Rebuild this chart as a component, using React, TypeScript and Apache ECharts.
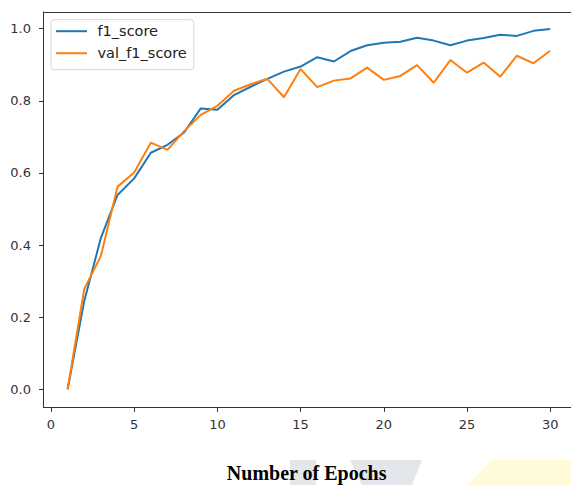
import React, { useEffect, useRef } from "react";
import * as echarts from "echarts";

const epochs = [1, 2, 3, 4, 5, 6, 7, 8, 9, 10, 11, 12, 13, 14, 15, 16, 17, 18, 19, 20, 21, 22, 23, 24, 25, 26, 27, 28, 29, 30];
const f1Score = [0.0, 0.245, 0.42, 0.539, 0.585, 0.656, 0.678, 0.712, 0.779, 0.775, 0.816, 0.839, 0.861, 0.881, 0.895, 0.921, 0.909, 0.938, 0.954, 0.961, 0.964, 0.975, 0.967, 0.954, 0.967, 0.974, 0.983, 0.98, 0.994, 0.999];
const valF1Score = [0.0, 0.278, 0.37, 0.562, 0.601, 0.684, 0.664, 0.716, 0.761, 0.786, 0.828, 0.846, 0.861, 0.81, 0.888, 0.838, 0.856, 0.862, 0.892, 0.858, 0.869, 0.899, 0.85, 0.913, 0.878, 0.906, 0.867, 0.925, 0.904, 0.939];
const xTicks = [0, 5, 10, 15, 20, 25, 30];
const yTicks = [0, 0.2, 0.4, 0.6, 0.8, 1.0];
const seriesNames = ["f1_score", "val_f1_score"];
const xTitle = "Number of Epochs";

export default function App() {
  const ref = useRef<HTMLDivElement>(null);
  useEffect(() => {
    if (!ref.current) return;
    const chart = echarts.init(ref.current, null, { renderer: "svg" });
    const axisColor = "#333";
    const tickFont = { fontFamily: "DejaVu Sans", fontSize: 13, color: "#333" };
    chart.setOption({
      animation: false,
      backgroundColor: "#fff",
      grid: {
        left: 43.5,
        right: 0,
        top: 12,
        bottom: 77.7,
        show: false,
      },
      legend: {
        orient: "vertical",
        left: 51,
        top: 19.7,
        padding: [4, 7, 9, 5],
        itemGap: 7,
        icon: "rect",
        itemWidth: 31,
        itemHeight: 2,
        backgroundColor: "rgba(255,255,255,0.85)",
        borderColor: "#d6d6d6",
        borderWidth: 1,
        borderRadius: 3,
        textStyle: { fontFamily: "DejaVu Sans", fontSize: 14.5, color: "#222", padding: [0, 0, 0, 5.5] },
        data: seriesNames,
      },
      xAxis: [
        {
          type: "value",
          position: "bottom",
          min: -0.45,
          max: 31.25,
          splitLine: { show: false },
          axisLine: { show: true, onZero: false, lineStyle: { color: axisColor, width: 1 } },
          axisTick: { show: true, length: 4.5, customValues: xTicks, lineStyle: { color: axisColor } },
          axisLabel: { ...tickFont, margin: 10.5, customValues: xTicks, formatter: (v: number) => String(v) },
        },
        {
          type: "value",
          position: "top",
          min: -0.45,
          max: 31.25,
          splitLine: { show: false },
          axisLine: { show: true, onZero: false, lineStyle: { color: axisColor, width: 1 } },
          axisTick: { show: false },
          axisLabel: { show: false },
        },
      ],
      yAxis: {
        type: "value",
        min: -0.05,
        max: 1.0463,
        splitLine: { show: false },
        axisLine: { show: true, onZero: false, lineStyle: { color: axisColor, width: 1 } },
        axisTick: { show: true, length: 4.5, customValues: yTicks, lineStyle: { color: axisColor } },
        axisLabel: { ...tickFont, margin: 12.5, customValues: yTicks, formatter: (v: number) => v.toFixed(1) },
      },
      graphic: [
        {
          type: "polygon",
          z: 0,
          silent: true,
          shape: { points: [[290, 460], [316, 460], [316, 485], [290, 485]] },
          style: { fill: "#e3e7eb" },
        },
        {
          type: "polygon",
          z: 0,
          silent: true,
          shape: { points: [[350, 460], [422, 460], [412, 485], [362, 485]] },
          style: { fill: "#e3e7eb" },
        },
        {
          type: "polygon",
          z: 0,
          silent: true,
          shape: { points: [[491.7, 460], [571, 460], [571, 485], [466.7, 485]] },
          style: { fill: "#fffbd8" },
        },
        {
          type: "text",
          z: 10,
          x: 306.7,
          y: 473,
          style: {
            text: xTitle,
            fontFamily: "Liberation Serif",
            fontWeight: "bold",
            fontSize: 20,
            fill: "#000",
            textAlign: "center",
            textVerticalAlign: "middle",
          },
        },
      ],
      series: [
        {
          name: seriesNames[0],
          type: "line",
          xAxisIndex: 0,
          data: epochs.map((e, i) => [e, f1Score[i]]),
          showSymbol: false,
          symbol: "none",
          lineStyle: { color: "#1f77b4", width: 2 },
          itemStyle: { color: "#1f77b4" },
        },
        {
          name: seriesNames[1],
          type: "line",
          xAxisIndex: 0,
          data: epochs.map((e, i) => [e, valF1Score[i]]),
          showSymbol: false,
          symbol: "none",
          lineStyle: { color: "#ff7f0e", width: 2 },
          itemStyle: { color: "#ff7f0e" },
        },
      ],
    });
    return () => chart.dispose();
  }, []);
  return <div ref={ref} style={{ position: "absolute", left: 0, top: 0, width: 571, height: 485 }} />;
}
